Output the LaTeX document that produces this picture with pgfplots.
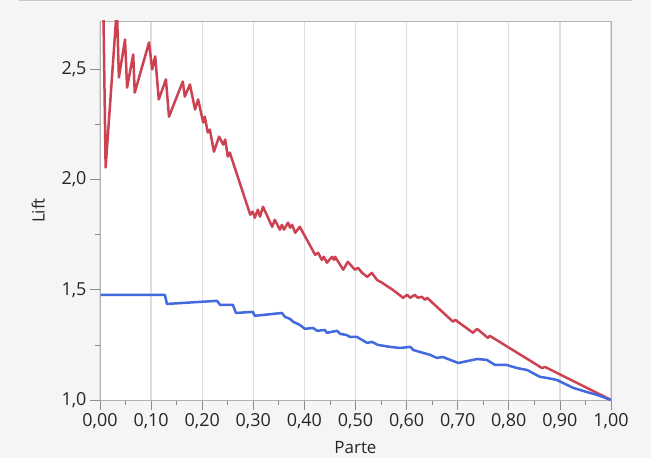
\documentclass[border=0pt]{standalone}
\usepackage{pgfplots}
\pgfplotsset{compat=1.18}
\usepackage{fontspec}
\setmainfont{Open Sans}
\usetikzlibrary{backgrounds}
\definecolor{liftred}{RGB}{205,66,82}
\definecolor{liftblue}{RGB}{66,106,222}
\definecolor{panel}{RGB}{245,245,245}
\begin{document}
\begin{tikzpicture}
\begin{axis}[
    scale only axis,
    width=511bp, height=379bp,
    xmin=0, xmax=1, ymin=1, ymax=2.72,
    xtick={0,0.1,...,1.01},
    ytick={1,1.5,2,2.5},
    minor x tick num=1,
    minor y tick num=1,
    xmajorgrids,
    grid style={draw=black!13, line width=1.2bp},
    axis line style={draw=black!30, line width=0.8bp},
    tick style={draw=black!45, line width=0.8bp},
    tick align=outside,
    major tick length=10bp,
    minor tick length=5bp,
    xtick pos=bottom, ytick pos=left,
    axis background/.style={fill=white},
    x tick label style={/pgf/number format/.cd, fixed, fixed zerofill, precision=2, use comma, assume math mode=true},
    y tick label style={/pgf/number format/.cd, fixed, fixed zerofill, precision=1, use comma, assume math mode=true},
    ticklabel style={font=\fontsize{18}{20}\selectfont, text=black!85},
    label style={font=\fontsize{17}{19}\selectfont, text=black!85},
    xlabel={Parte}, ylabel={Lift},
    xlabel style={yshift=-6bp},
    ylabel style={yshift=10bp},
    clip=true,
]
\addplot[liftred, line width=2.5bp, line join=round] coordinates {
(0.004,3.2) (0.011,2.055) (0.033,2.78) (0.037,2.464) (0.049,2.636) (0.053,2.418)
(0.065,2.568) (0.068,2.395) (0.096,2.623) (0.102,2.5) (0.108,2.559) (0.115,2.364)
(0.129,2.455) (0.135,2.286) (0.162,2.445) (0.166,2.377) (0.176,2.432) (0.186,2.318)
(0.192,2.364) (0.202,2.259) (0.205,2.286) (0.211,2.214) (0.215,2.227) (0.223,2.127)
(0.233,2.195) (0.241,2.159) (0.245,2.182) (0.250,2.105) (0.254,2.123) (0.294,1.841)
(0.299,1.855) (0.303,1.827) (0.309,1.864) (0.313,1.832) (0.319,1.877) (0.337,1.786)
(0.342,1.818) (0.352,1.773) (0.356,1.795) (0.360,1.773) (0.368,1.805) (0.372,1.782)
(0.376,1.795) (0.382,1.759) (0.391,1.786) (0.421,1.659) (0.427,1.668) (0.434,1.636)
(0.438,1.650) (0.444,1.623) (0.454,1.650) (0.458,1.636) (0.460,1.650) (0.476,1.591)
(0.485,1.627) (0.499,1.591) (0.505,1.600) (0.513,1.577) (0.523,1.559) (0.532,1.577)
(0.542,1.545) (0.552,1.532) (0.573,1.500) (0.593,1.464) (0.601,1.477) (0.607,1.464)
(0.616,1.477) (0.622,1.464) (0.630,1.468) (0.636,1.455) (0.640,1.464) (0.691,1.355)
(0.695,1.364) (0.730,1.305) (0.738,1.323) (0.759,1.282) (0.763,1.291) (0.865,1.145)
(0.871,1.150) (1.000,1.000)
};
\addplot[liftblue, line width=2.5bp, line join=round] coordinates {
(0.001,1.477) (0.127,1.477) (0.131,1.436) (0.229,1.450) (0.235,1.432) (0.260,1.432)
(0.266,1.395) (0.299,1.400) (0.303,1.382) (0.356,1.395) (0.362,1.377) (0.372,1.368)
(0.378,1.355) (0.391,1.341) (0.401,1.323) (0.417,1.327) (0.425,1.314) (0.440,1.318)
(0.444,1.305) (0.464,1.314) (0.470,1.300) (0.483,1.295) (0.489,1.286) (0.503,1.286)
(0.523,1.259) (0.532,1.264) (0.544,1.250) (0.568,1.241) (0.587,1.236) (0.607,1.241)
(0.613,1.227) (0.626,1.218) (0.646,1.205) (0.659,1.191) (0.671,1.195) (0.701,1.168)
(0.738,1.186) (0.757,1.182) (0.773,1.159) (0.796,1.159) (0.816,1.145) (0.836,1.136)
(0.861,1.105) (0.875,1.100) (0.894,1.091) (0.926,1.055) (0.953,1.036) (0.973,1.023)
(1.000,1.000)
};
\end{axis}
\begin{scope}[on background layer]
\fill[panel] ([shift={(-100bp,-58bp)}]current axis.south west) rectangle ([shift={(551bp,400bp)}]current axis.south west);
\draw[black!22, line width=1bp] ([shift={(-81bp,399bp)}]current axis.south west) -- ([shift={(532bp,399bp)}]current axis.south west);
\end{scope}
\useasboundingbox ([shift={(-100bp,-58bp)}]current axis.south west) rectangle ([shift={(551bp,400bp)}]current axis.south west);
\end{tikzpicture}
\end{document}
